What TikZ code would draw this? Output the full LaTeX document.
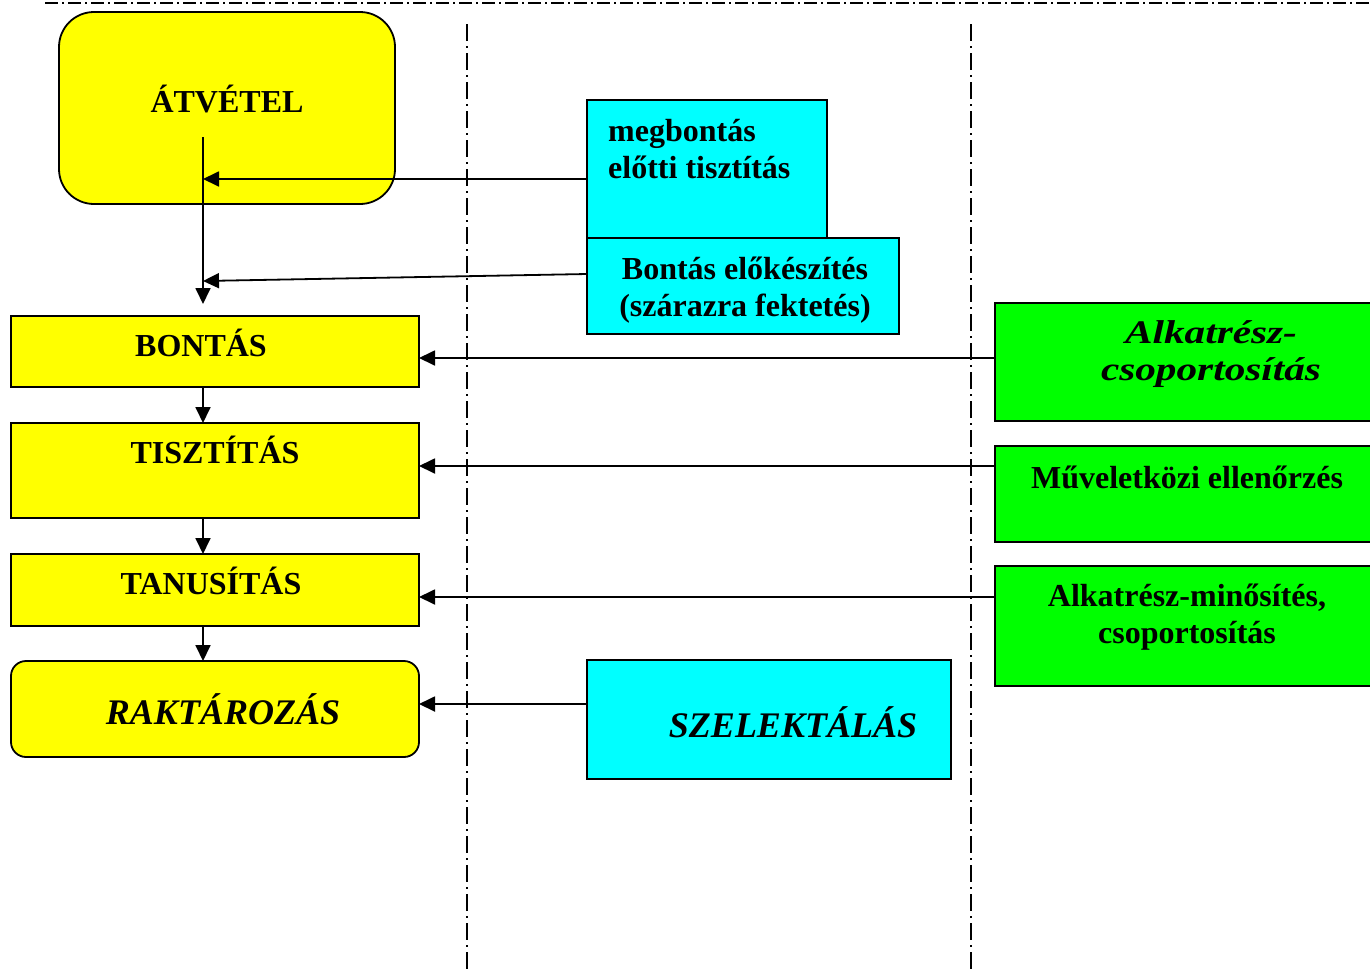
\documentclass[tikz,border=0pt]{standalone}
\usepackage{fontspec}
\setmainfont{Liberation Serif}
\usetikzlibrary{arrows.meta,calc}
\definecolor{yel}{HTML}{FFFF00}
\definecolor{cya}{HTML}{00FFFF}
\definecolor{gre}{HTML}{00FF00}
\tikzset{
  boxbase/.style={draw=black, line width=1.8pt, anchor=north west, inner sep=0pt, outer sep=0pt},
  ybox/.style={boxbase, fill=yel},
  cbox/.style={boxbase, fill=cya},
  gbox/.style={boxbase, fill=gre},
  txt/.style={inner sep=0pt, font=\fontsize{32}{37}\selectfont\bfseries, align=center},
  itxt/.style={inner sep=0pt, font=\fontsize{36}{40}\selectfont\bfseries\itshape, align=center},
  gitxt/.style={inner sep=0pt, font=\fontsize{33}{37}\selectfont\bfseries\itshape, xscale=1.25},
  arr/.style={line width=1.8pt, -{Triangle[length=16pt,width=15pt]}},
  vsep/.style={line width=1.8pt, dash pattern=on 17pt off 5pt on 2pt off 5pt},
  hsep/.style={line width=2.2pt, dash pattern=on 13pt off 4pt on 2pt off 4pt},
}
\begin{document}
\begin{tikzpicture}[x=1pt,y=-1pt]
\clip (0,0) rectangle (1370,972);
\fill[white] (0,0) rectangle (1370,972);
% separators
\coordinate (h1) at (45,3);  \coordinate (h2) at (1370,3);
\coordinate (v1a) at (467,24); \coordinate (v1b) at (467,972);
\coordinate (v2a) at (971,24); \coordinate (v2b) at (971,972);
\draw[hsep] (h1) -- (h2);
\draw[vsep] (v1a) -- (v1b);
\draw[vsep] (v2a) -- (v2b);
% boxes
\node[ybox, rounded corners=35pt, minimum width=336pt, minimum height=192pt] (atv) at (59,12) {};
\node[cbox, minimum width=240pt, minimum height=140pt] (megb) at (587,100) {};
\node[cbox, minimum width=312pt, minimum height=96pt] (elok) at (587,238) {};
\node[ybox, minimum width=408pt, minimum height=71pt] (bont) at (11,316) {};
\node[ybox, minimum width=408pt, minimum height=95pt] (tiszt) at (11,423) {};
\node[ybox, minimum width=408pt, minimum height=72pt] (tanu) at (11,554) {};
\node[ybox, rounded corners=15pt, minimum width=408pt, minimum height=96pt] (rakt) at (11,661) {};
\node[cbox, minimum width=364pt, minimum height=119pt] (szel) at (587,660) {};
\node[gbox, minimum width=390pt, minimum height=118pt] (g1) at (995,303) {};
\node[gbox, minimum width=390pt, minimum height=96pt] (g2) at (995,446) {};
\node[gbox, minimum width=390pt, minimum height=120pt] (g3) at (995,566) {};
% texts
\node[txt, anchor=base] (tatv) at (227,112) {ÁTVÉTEL};
\node[txt, align=left, anchor=north west] (tmegb) at (608,119) {megbontás\\előtti tisztítás};
\node[txt, anchor=north] (telok) at (745,257) {Bontás előkészítés\\(szárazra fektetés)};
\node[txt, anchor=base] (tbont) at (201,356) {BONTÁS};
\node[txt, anchor=base] (ttiszt) at (215,463) {TISZTÍTÁS};
\node[txt, anchor=base] (ttanu) at (211,594) {TANUSÍTÁS};
\node[itxt, anchor=base] (trakt) at (223,724) {RAKTÁROZÁS};
\node[itxt, anchor=base] (tszel) at (793,737) {SZELEKTÁLÁS};
\node[gitxt, anchor=base] (tg1a) at (1211,343) {Alkatrész-};
\node[gitxt, anchor=base] (tg1b) at (1211,380) {csoportosítás};
\node[txt, anchor=base] (tg2) at (1187,488) {Műveletközi ellenőrzés};
\node[txt, anchor=north] (tg3) at (1187,584) {Alkatrész-minősítés,\\csoportosítás};
% connectors
\coordinate (s0) at (203,137);
\coordinate (p1) at (203,179);
\coordinate (p2) at (203,281);
\draw[arr] (s0) -- (203,304) coordinate (e0);
\draw[arr] (megb.west |- p1) -- (p1);
\draw[arr] ($(elok.north west)+(0,36)$) -- (p2);
\draw[arr] (bont.south -| p1) -- (tiszt.north -| p1);
\draw[arr] (tiszt.south -| p1) -- (tanu.north -| p1);
\draw[arr] (tanu.south -| p1) -- (rakt.north -| p1);
\coordinate (y1) at (0,358);
\coordinate (y2) at (0,466);
\coordinate (y3) at (0,597);
\coordinate (y4) at (0,704);
\draw[arr] (g1.west |- y1) -- (bont.east |- y1);
\draw[arr] (g2.west |- y2) -- (tiszt.east |- y2);
\draw[arr] (g3.west |- y3) -- (tanu.east |- y3);
\draw[arr] (szel.west |- y4) -- (rakt.east |- y4);
\end{tikzpicture}
\end{document}
